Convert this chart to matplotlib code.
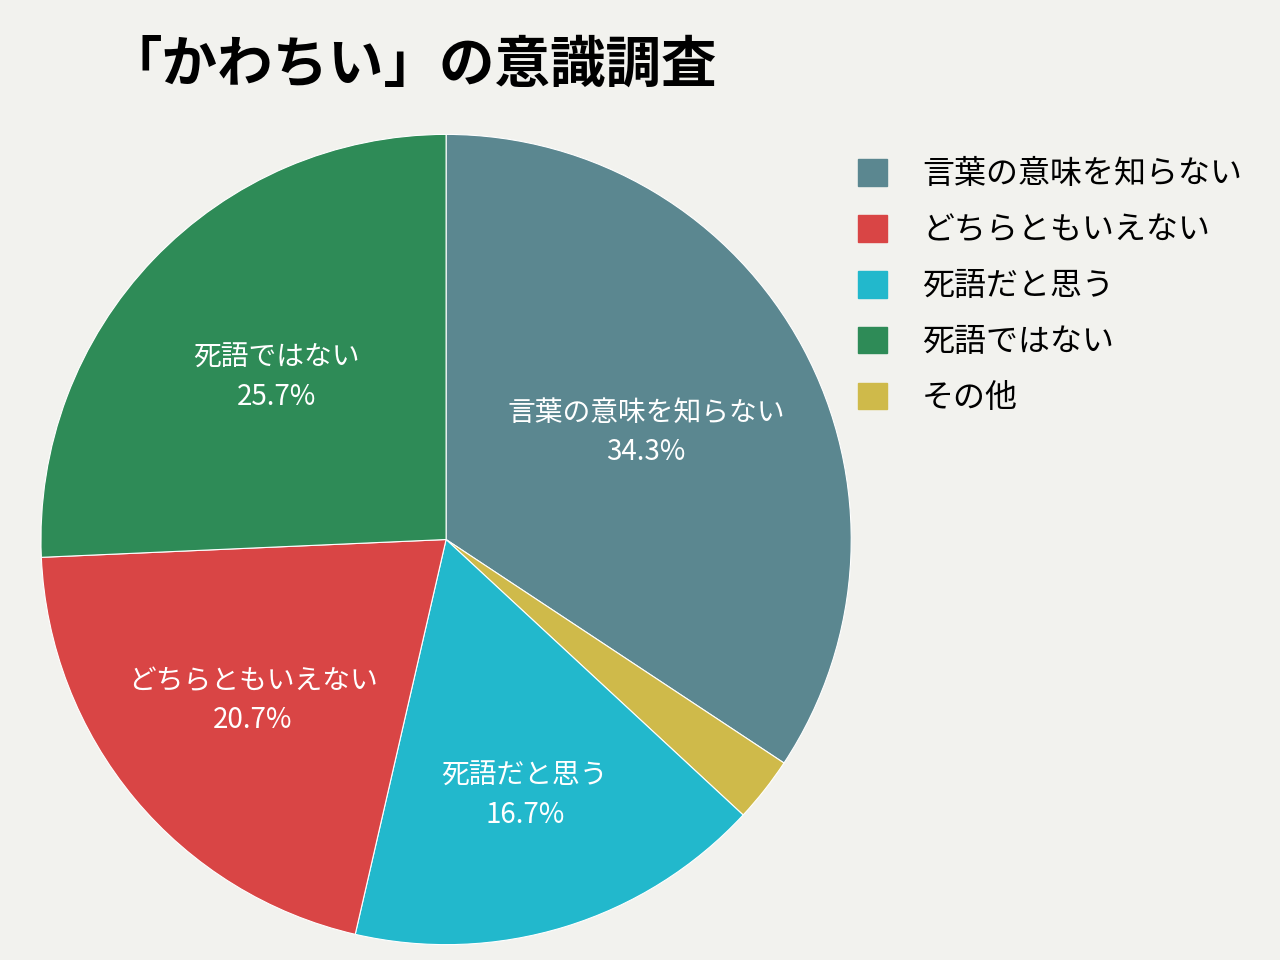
import numpy as np
import matplotlib.pyplot as plt
import matplotlib.patches as mpatches

plt.rcParams["font.family"] = "Noto Sans CJK JP"

# clockwise from 12 o'clock
categories = ["言葉の意味を知らない", "その他", "死語だと思う", "どちらともいえない", "死語ではない"]
values = [34.3, 2.6, 16.7, 20.7, 25.7]
colors = ["#5b8790", "#cfba4a", "#22b8cc", "#d94545", "#2e8b57"]
legend_order = ["言葉の意味を知らない", "どちらともいえない", "死語だと思う", "死語ではない", "その他"]

bg = "#f2f2ee"
fig = plt.figure(figsize=(12.8, 9.6), dpi=100, facecolor=bg)
ax = fig.add_axes([0.032, 0.016, 0.633, 0.844])
ax.set_facecolor(bg)

wedges, _ = ax.pie(values, colors=colors, startangle=90, counterclock=False,
                   wedgeprops=dict(edgecolor="white", linewidth=0.8))
ax.set_aspect("equal")
ax.set_xlim(-1.0, 1.0)
ax.set_ylim(-1.0, 1.0)

label_dist = [0.56, None, 0.66, 0.62, 0.58]
for w, name, v, d in zip(wedges, categories, values, label_dist):
    if d is None:
        continue
    ang = np.deg2rad((w.theta1 + w.theta2) / 2)
    ax.text(d * np.cos(ang), d * np.sin(ang), f"{name}\n{v}%", ha="center", va="center",
            color="white", fontsize=20, linespacing=1.4)

fig.text(0.083, 0.932, "「かわちい」の意識調査", fontsize=40, fontweight="bold", ha="left", va="center")

handles = [mpatches.Patch(color=colors[categories.index(n)]) for n in legend_order]
fig.legend(handles, legend_order, loc="upper left", bbox_to_anchor=(0.648, 0.865), frameon=False,
           fontsize=23, handlelength=0.9, handleheight=0.9, handletextpad=1.1, labelspacing=0.75)

fig.savefig("out.png", dpi=100, facecolor=bg)
